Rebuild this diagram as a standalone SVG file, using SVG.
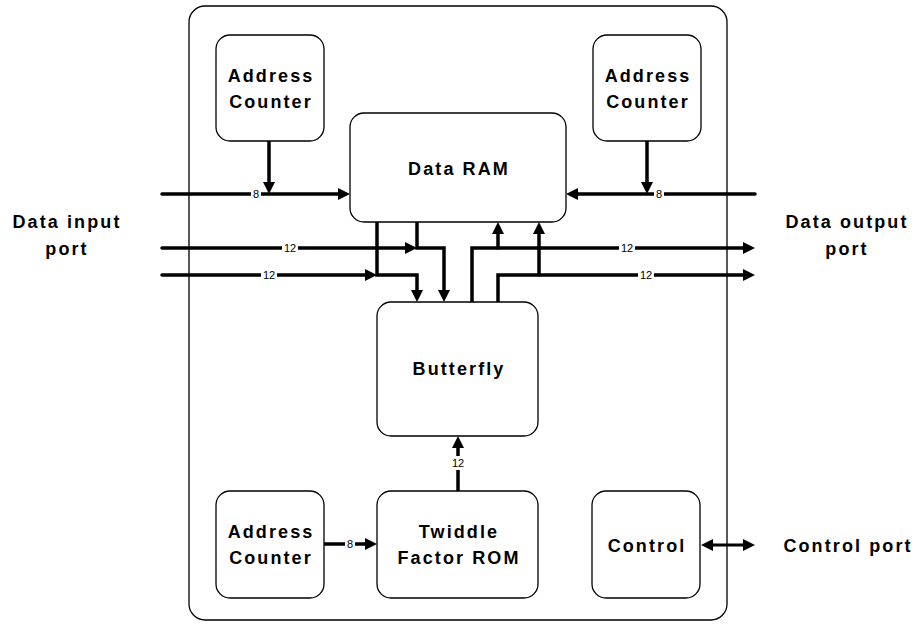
<svg xmlns="http://www.w3.org/2000/svg" width="916" height="624" viewBox="0 0 916 624">
<defs>
<marker id="ah" markerUnits="userSpaceOnUse" markerWidth="12" markerHeight="12" viewBox="0 0 12 12" refX="6" refY="6" orient="auto-start-reverse"><path d="M0,0 L12,6 L0,12 z" fill="#000"/></marker>
<style>
.box{fill:#fff;stroke:#000;stroke-width:1.3}
.t{font-family:"Liberation Sans",Arial,sans-serif;font-weight:bold;font-size:18px;letter-spacing:2.1px;text-anchor:middle;fill:#000}
.c{fill:none;stroke:#000;stroke-width:3.5;stroke-linecap:round;stroke-linejoin:miter}
.a{marker-end:url(#ah)}
.lb{font-family:"Liberation Sans",Arial,sans-serif;font-size:11px;text-anchor:middle;fill:#000}
.bg{fill:#fff}
</style>
</defs>
<rect width="916" height="624" fill="#fff"/>
<g id="chip"><rect x="189" y="6" width="538" height="614" rx="16" fill="none" stroke="#000" stroke-width="1.3"/></g>

<g id="connectors">
<path class="c a" d="M162,194 H344"/>
<path class="c a" d="M269,141 V188"/>
<path class="c a" d="M755,194 H572"/>
<path class="c a" d="M647,141 V188"/>
<path class="c a" d="M162,248 H411"/>
<path class="c a" d="M162,275 H371"/>
<path class="c a" d="M377,222 V275 H417 V296"/>
<path class="c a" d="M417,222 V248 H444 V296"/>
<path class="c a" d="M472,302 V248 H749"/>
<path class="c a" d="M498,248 V228"/>
<path class="c a" d="M498,302 V275 H749"/>
<path class="c a" d="M539,275 V228"/>
<path class="c a" d="M458,491 V442"/>
<path class="c a" d="M324,544 H371"/>
<path class="c a" d="M707,545 H749" style="marker-start:url(#ah);stroke-width:3"/>
<rect class="bg" x="251" y="187" width="10" height="14"/><text class="lb" x="256" y="198">8</text>
<rect class="bg" x="654" y="187" width="10" height="14"/><text class="lb" x="659" y="198">8</text>
<rect class="bg" x="282" y="241" width="16" height="14"/><text class="lb" x="290" y="252">12</text>
<rect class="bg" x="261" y="268" width="16" height="14"/><text class="lb" x="269" y="279">12</text>
<rect class="bg" x="619" y="241" width="16" height="14"/><text class="lb" x="627" y="252">12</text>
<rect class="bg" x="638" y="268" width="16" height="14"/><text class="lb" x="646" y="279">12</text>
<rect class="bg" x="450" y="456" width="16" height="14"/><text class="lb" x="458" y="467">12</text>
<rect class="bg" x="345" y="537" width="10" height="14"/><text class="lb" x="350" y="548">8</text>
</g>

<g id="ac1"><rect class="box" x="216" y="35" width="108" height="106" rx="14"/><text class="t" x="271" y="82">Address</text><text class="t" x="271" y="108">Counter</text></g>
<g id="ac2"><rect class="box" x="593" y="35" width="108" height="106" rx="14"/><text class="t" x="648" y="82">Address</text><text class="t" x="648" y="108">Counter</text></g>
<g id="ram"><rect class="box" x="350" y="113" width="216" height="109" rx="14"/><text class="t" x="459" y="175">Data RAM</text></g>
<g id="butterfly"><rect class="box" x="377" y="302" width="161" height="134" rx="14"/><text class="t" x="459" y="375">Butterfly</text></g>
<g id="ac3"><rect class="box" x="216" y="491" width="108" height="107" rx="14"/><text class="t" x="271" y="538">Address</text><text class="t" x="271" y="564">Counter</text></g>
<g id="rom"><rect class="box" x="377" y="491" width="161" height="107" rx="14"/><text class="t" x="459" y="538">Twiddle</text><text class="t" x="459" y="564">Factor ROM</text></g>
<g id="control"><rect class="box" x="592" y="491" width="108" height="107" rx="14"/><text class="t" x="647" y="552">Control</text></g>
<g id="in"><text class="t" x="67" y="228">Data input</text><text class="t" x="67" y="255">port</text></g>
<g id="out"><text class="t" x="847" y="228">Data output</text><text class="t" x="847" y="255">port</text></g>
<g id="ctlport"><text class="t" x="848" y="552">Control port</text></g>
</svg>
